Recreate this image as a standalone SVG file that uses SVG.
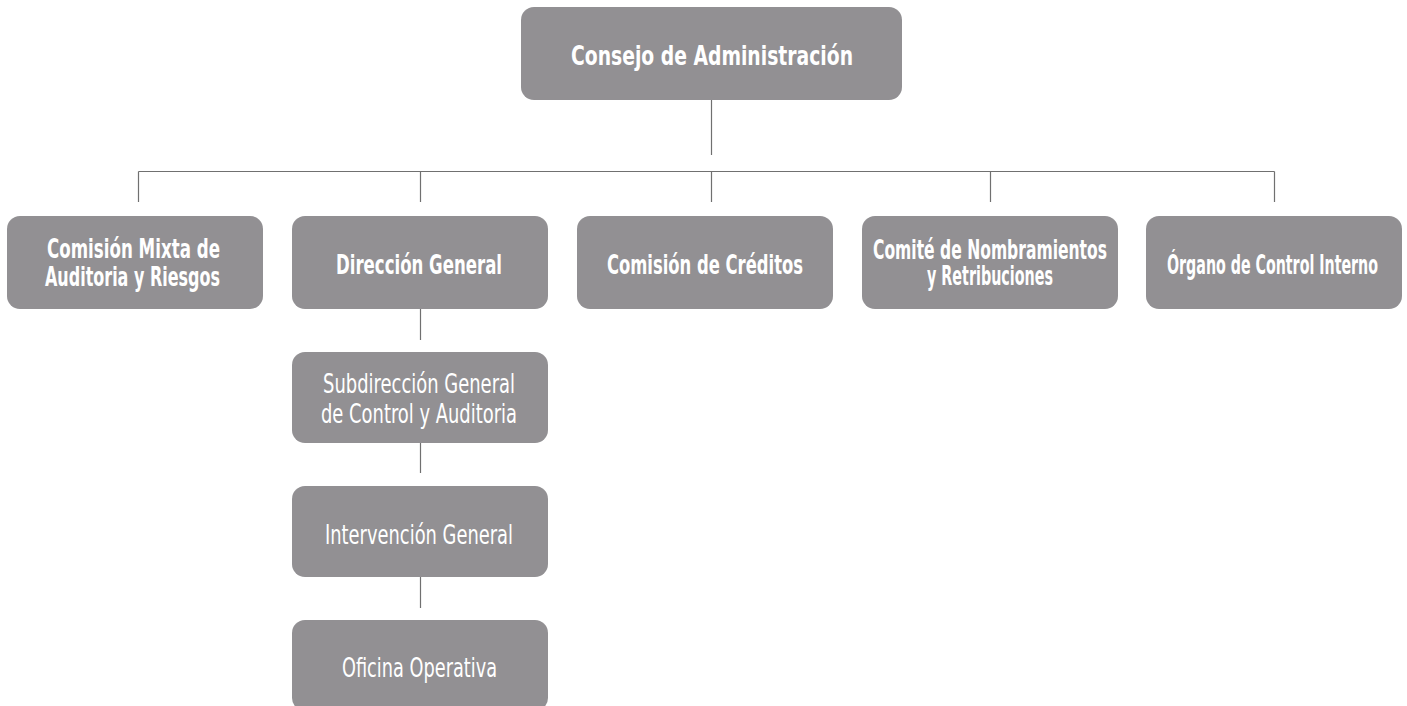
<svg xmlns="http://www.w3.org/2000/svg" width="1407" height="706" viewBox="0 0 1407 706">
  <style>
    .box { fill: #929093; }
    .t { fill: #ffffff; font-family: "Liberation Sans Narrow", "DejaVu Sans Condensed", "DejaVu Sans", sans-serif; font-size: 26px; text-anchor: middle; }
    .b { font-weight: bold; }
    .r { font-weight: normal; }
    .conn { stroke: #707070; stroke-width: 1.2; fill: none; }
  </style>
  <rect width="1407" height="706" fill="#ffffff"/>
  <g id="connectors">
    <path class="conn" d="M711.5 100 V155"/>
    <path class="conn" d="M138.5 171.5 H1274.5"/>
    <path class="conn" d="M138.5 171.5 V202 M420.5 171.5 V202 M711.5 171.5 V202 M990.5 171.5 V202 M1274.5 171.5 V202"/>
    <path class="conn" d="M420.5 309 V340 M420.5 443 V473 M420.5 577 V608"/>
  </g>
  <g id="consejo">
    <rect class="box" x="521" y="7" width="381" height="93" rx="13"/>
    <text class="t b" x="712" y="65" textLength="282" lengthAdjust="spacingAndGlyphs">Consejo de Administración</text>
  </g>
  <g id="comision-mixta">
    <rect class="box" x="7" y="216" width="256" height="93" rx="13"/>
    <text class="t b" x="133.5" y="258" textLength="173" lengthAdjust="spacingAndGlyphs">Comisión Mixta de</text>
    <text class="t b" x="132.5" y="286" textLength="175" lengthAdjust="spacingAndGlyphs">Auditoria y Riesgos</text>
  </g>
  <g id="direccion-general">
    <rect class="box" x="292" y="216" width="256" height="93" rx="13"/>
    <text class="t b" x="419" y="274" textLength="166" lengthAdjust="spacingAndGlyphs">Dirección General</text>
  </g>
  <g id="comision-creditos">
    <rect class="box" x="577" y="216" width="256" height="93" rx="13"/>
    <text class="t b" x="705" y="274" textLength="196" lengthAdjust="spacingAndGlyphs">Comisión de Créditos</text>
  </g>
  <g id="comite-nombramientos">
    <rect class="box" x="862" y="216" width="256" height="93" rx="13"/>
    <text class="t b" x="990" y="259" textLength="234" lengthAdjust="spacingAndGlyphs">Comité de Nombramientos</text>
    <text class="t b" x="990" y="285" textLength="126" lengthAdjust="spacingAndGlyphs">y Retribuciones</text>
  </g>
  <g id="organo-control">
    <rect class="box" x="1146" y="216" width="256" height="93" rx="13"/>
    <text class="t b" x="1272.5" y="274" textLength="211" lengthAdjust="spacingAndGlyphs">Órgano de Control Interno</text>
  </g>
  <g id="subdireccion">
    <rect class="box" x="292" y="352" width="256" height="91" rx="13"/>
    <text class="t r" x="419" y="393" textLength="192" lengthAdjust="spacingAndGlyphs">Subdirección General</text>
    <text class="t r" x="419" y="423" textLength="196" lengthAdjust="spacingAndGlyphs">de Control y Auditoria</text>
  </g>
  <g id="intervencion">
    <rect class="box" x="292" y="486" width="256" height="91" rx="13"/>
    <text class="t r" x="419" y="544" textLength="188" lengthAdjust="spacingAndGlyphs">Intervención General</text>
  </g>
  <g id="oficina">
    <rect class="box" x="292" y="620" width="256" height="91" rx="13"/>
    <text class="t r" x="419.5" y="677" textLength="155" lengthAdjust="spacingAndGlyphs">Oficina Operativa</text>
  </g>
</svg>
